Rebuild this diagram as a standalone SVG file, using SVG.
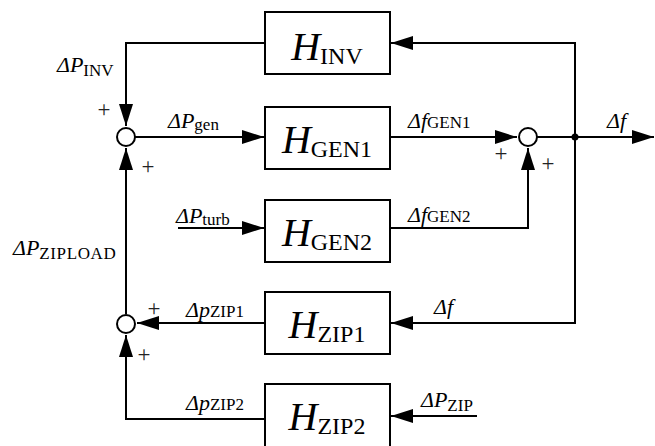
<svg xmlns="http://www.w3.org/2000/svg" width="655" height="446" viewBox="0 0 655 446">
<style>
.ln{fill:none;stroke:#000;stroke-width:2}
.box{fill:#fff;stroke:#000;stroke-width:2}
.sum{fill:#fff;stroke:#000;stroke-width:2}
.t{font-family:"Liberation Serif","Times New Roman",serif;fill:#000}
.lab{font-size:22px;font-style:italic}
.sub{font-size:17px;font-style:normal}
.bl{font-size:40px;font-style:italic}
.bsub{font-size:24px;font-style:normal}
.pl{font-size:23px;text-anchor:middle;fill:#222}
</style>
<defs>
<marker id="ah" markerUnits="userSpaceOnUse" markerWidth="23" markerHeight="16" refX="22" refY="7" orient="auto">
<path d="M0,0 L22,7 L0,14 Z" fill="#000"/>
</marker>
</defs>
<g id="connectors">
<path class="ln" d="M265,43 H126 V126" marker-end="url(#ah)"/>
<path class="ln" d="M135,137 H264" marker-end="url(#ah)"/>
<path class="ln" d="M178,228 H264" marker-end="url(#ah)"/>
<path class="ln" d="M126,314 V148" marker-end="url(#ah)"/>
<path class="ln" d="M265,323 H137" marker-end="url(#ah)"/>
<path class="ln" d="M265,419 H126 V335" marker-end="url(#ah)"/>
<path class="ln" d="M477,416 H391" marker-end="url(#ah)"/>
<path class="ln" d="M390,137 H517" marker-end="url(#ah)"/>
<path class="ln" d="M390,228 H528 V148" marker-end="url(#ah)"/>
<path class="ln" d="M537,137 H654" marker-end="url(#ah)"/>
<path class="ln" d="M575,137 V43 H391" marker-end="url(#ah)"/>
<path class="ln" d="M575,137 V323 H391" marker-end="url(#ah)"/>
<circle cx="575" cy="137" r="3.5" fill="#000"/>
</g>
<g id="sum1"><circle class="sum" cx="126" cy="137" r="9"/></g>
<g id="sum2"><circle class="sum" cx="126" cy="324" r="9"/></g>
<g id="sum3"><circle class="sum" cx="528" cy="137" r="9"/></g>
<g id="H_INV"><rect class="box" x="265" y="12" width="125" height="62"/>
<text class="t bl" x="327" y="60" text-anchor="middle">H<tspan class="bsub" dy="4">INV</tspan></text></g>
<g id="H_GEN1"><rect class="box" x="265" y="107" width="125" height="62"/>
<text class="t bl" x="327" y="153" text-anchor="middle">H<tspan class="bsub" dy="4">GEN1</tspan></text></g>
<g id="H_GEN2"><rect class="box" x="265" y="200" width="125" height="62"/>
<text class="t bl" x="327" y="246" text-anchor="middle">H<tspan class="bsub" dy="4">GEN2</tspan></text></g>
<g id="H_ZIP1"><rect class="box" x="265" y="292" width="125" height="62"/>
<text class="t bl" x="327" y="338" text-anchor="middle">H<tspan class="bsub" dy="4">ZIP1</tspan></text></g>
<g id="H_ZIP2"><rect class="box" x="265" y="384" width="125" height="70"/>
<text class="t bl" x="327" y="430" text-anchor="middle">H<tspan class="bsub" dy="4">ZIP2</tspan></text></g>
<g id="labels">
<text class="t lab" x="57" y="72">ΔP<tspan class="sub" dy="4">INV</tspan></text>
<text class="t lab" x="168" y="128">ΔP<tspan class="sub" dy="2">gen</tspan></text>
<text class="t lab" x="176" y="223">ΔP<tspan class="sub" dy="2">turb</tspan></text>
<text class="t lab" x="13" y="255">ΔP<tspan class="sub" dy="4" letter-spacing="0.6">ZIPLOAD</tspan></text>
<text class="t lab" x="186" y="317">Δp<tspan class="sub" dy="0">ZIP1</tspan></text>
<text class="t lab" x="186" y="410">Δp<tspan class="sub" dy="0">ZIP2</tspan></text>
<text class="t lab" x="408" y="128">Δf<tspan class="sub" dy="0">GEN1</tspan></text>
<text class="t lab" x="408" y="222">Δf<tspan class="sub" dy="0">GEN2</tspan></text>
<text class="t lab" x="607" y="128">Δf</text>
<text class="t lab" x="434" y="314">Δf</text>
<text class="t lab" x="421" y="407">ΔP<tspan class="sub" dy="4">ZIP</tspan></text>
<text class="t pl" x="104" y="117">+</text>
<text class="t pl" x="148" y="174">+</text>
<text class="t pl" x="154" y="316">+</text>
<text class="t pl" x="144" y="362">+</text>
<text class="t pl" x="501" y="161">+</text>
<text class="t pl" x="548" y="171">+</text>
</g>
</svg>
